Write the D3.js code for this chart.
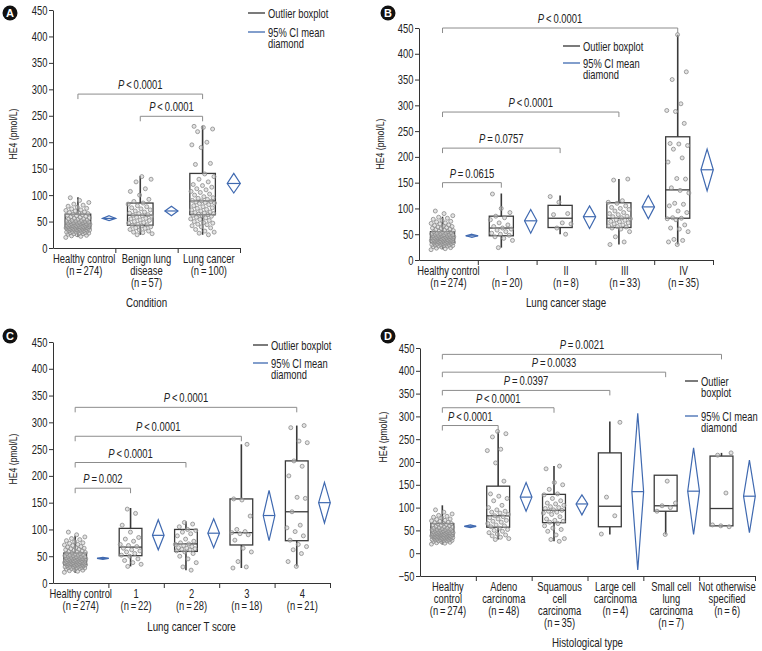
<!DOCTYPE html>
<html><head><meta charset="utf-8">
<script src="https://cdn.jsdelivr.net/npm/d3@7"></script>
<style>
body{margin:0;background:#fff;}
svg text{font-family:"Liberation Sans",Arial,Roboto,sans-serif;fill:#222;}
</style></head><body>
<svg id="chart" width="762" height="651"></svg>
<script>
// ---------------- DATA ----------------
const healthyPoints = [20,22,23,24,25,26,27,27,28,28,29,29,30,30,31,31,32,32,33,33,34,34,34,35,35,35,36,36,36,37,37,37,38,38,38,39,39,39,40,40,40,41,41,41,42,42,42,43,43,43,44,44,44,45,45,45,46,46,46,47,47,48,48,49,49,50,50,51,51,52,52,53,54,55,55,56,57,58,59,60,61,62,63,64,65,66,67,68,70,71,72,74,75,77,79,81,83,86,90,95];

// Panel A — Condition
const catsA = [["Healthy control","(n\u2009=\u2009274)"],["Benign lung","disease","(n\u2009=\u200957)"],["Lung cancer","(n\u2009=\u2009100)"]];
const boxA = [[37,45,64,21,96],[43,62,85,25,136],[63,89,141,25,231]]; // q1, median, q3, whisker low, whisker high
const diamondA = [[56,52,61],[70,61,79],[122,104,141]]; // mean, CI low, CI high
const benignPoints = [25,27,29,30,32,34,35,37,38,40,42,43,44,45,47,48,50,52,53,55,56,58,60,61,62,63,65,66,68,70,72,74,76,78,80,83,85,88,92,100,107,112,125,130,135];
const lungPoints = [25,28,30,32,35,38,40,42,44,45,47,48,50,52,54,55,57,58,60,61,62,63,64,65,66,67,68,70,72,73,75,76,78,80,82,84,85,86,87,88,89,90,92,94,95,97,100,102,105,107,110,112,115,118,120,125,130,135,140,158,160,190,195,200,220,225,228,230];
const pointsA = [healthyPoints, benignPoints, lungPoints];
const bracketsA = [[0,2,291,"<","0.0001"],[1,2,249,"<","0.0001"]];
const yTicksA = [0,50,100,150,200,250,300,350,400,450];

// Panel B — Lung cancer stage
const catsB = [["Healthy control","(n\u2009=\u2009274)"],["I","(n\u2009=\u200920)"],["II","(n\u2009=\u20098)"],["III","(n\u2009=\u200933)"],["IV","(n\u2009=\u200935)"]];
const boxB = [[34,45,55,21,84],[47,62,85,24,129],[63,81,106,50,125],[63,81,111,30,157],[81,136,239,30,437]];
const diamondB = [[47,44,50],[76,52,98],[84,61,105],[103,80,125],[175,134,215]];
const stage1Points = [24,38,42,45,48,50,52,55,58,60,62,65,68,72,78,82,85,92,100,128];
const stage2Points = [50,62,70,72,88,90,112,123];
const stage3Points = [30,35,45,55,60,62,64,65,66,68,70,72,74,75,77,78,80,82,84,85,88,90,92,95,98,100,102,105,110,112,115,155,157];
const stage4Points = [30,35,38,40,55,60,62,68,78,80,81,82,92,95,105,108,110,130,135,140,157,158,190,198,215,222,225,226,265,288,290,303,350,365,437];
const pointsB = [healthyPoints, stage1Points, stage2Points, stage3Points, stage4Points];
const bracketsB = [[0,4,450,"<","0.0001"],[0,3,287,"<","0.0001"],[0,2,217,"=","0.0757"],[0,1,150,"=","0.0615"]];
const yTicksB = [0,50,100,150,200,250,300,350,400,450];

// Panel C — Lung cancer T score
const catsC = [["Healthy control","(n\u2009=\u2009274)"],["1","(n\u2009=\u200922)"],["2","(n\u2009=\u200928)"],["3","(n\u2009=\u200918)"],["4","(n\u2009=\u200921)"]];
const boxC = [[34,45,56,19,88],[51,67,102,31,140],[59,73,100,24,115],[71,94,157,28,259],[79,133,228,31,294]];
const diamondC = [[46,44,48],[89,62,118],[93,66,120],[126,79,173],[150,112,188]];
const t1Points = [31,35,38,42,45,50,52,55,58,60,62,65,68,70,72,78,82,85,95,108,130,138];
const t2Points = [24,30,38,45,50,55,58,60,62,63,64,65,66,68,70,72,73,75,78,82,88,92,95,98,100,105,110,113];
const t3Points = [28,30,40,58,65,80,90,92,94,96,100,125,155,157,259];
const t4Points = [31,40,55,62,68,72,80,88,96,103,108,133,158,160,200,218,228,262,265,290,294];
const pointsC = [healthyPoints, t1Points, t2Points, t3Points, t4Points];
const bracketsC = [[0,4,328,"<","0.0001"],[0,3,274,"<","0.0001"],[0,2,225,"<","0.0001"],[0,1,177,"=","0.002"]];
const yTicksC = [0,50,100,150,200,250,300,350,400,450];

// Panel D — Histological type
const catsD = [["Healthy","control","(n\u2009=\u2009274)"],["Adeno","carcinoma","(n\u2009=\u200948)"],["Squamous","cell","carcinoma","(n\u2009=\u200935)"],["Large cell","carcinoma","(n\u2009=\u20094)"],["Small cell","lung","carcinoma","(n\u2009=\u20097)"],["Not otherwise","specified","(n\u2009=\u20096)"]];
const boxD = [[37,46,65,19,105],[57,82,147,30,267],[67,94,129,26,191],[58,103,220,41,289],[92,104,171,41,171],[60,98,213,58,220]];
const diamondD = [[59,56,62],[123,92,155],[108,84,128],[135,-37,307],[136,41,231],[125,45,204]];
const adenoPoints = [30,32,35,38,40,42,45,48,50,52,55,58,60,62,65,68,70,72,75,78,80,82,85,88,90,92,95,100,105,115,120,125,130,158,198,225,228,255,262,267];
const squamousPoints = [26,30,32,40,48,52,55,60,65,68,70,72,75,80,85,88,90,92,94,95,98,100,102,105,108,110,115,120,128,130,140,150,155,185,191];
const largePoints = [42,82,123,287];
const smallPoints = [41,92,100,104,110,158];
const nosPoints = [58,60,62,132,215,220];
const pointsD = [healthyPoints, adenoPoints, squamousPoints, largePoints, smallPoints, nosPoints];
const bracketsD = [[0,5,436,"=","0.0021"],[0,4,397,"=","0.0033"],[0,3,357,"=","0.0397"],[0,2,319,"<","0.0001"],[0,1,280,"<","0.0001"]];
const yTicksD = [-50,0,50,100,150,200,250,300,350,400,450];

const legendBox = "Outlier boxplot";
const legendDiamond = "95% CI mean diamond";

// ---------------- STYLE ----------------
const C_AXIS = "#333", C_BOX = "#3a3a3a", C_PT = "#8a8a8a", C_BR = "#8c8c8c", C_DIA = "#3f69b0";
const SX = 0.75; // condensed look
const svg = d3.select("#chart");

// text helper: condensed text with optional multiple lines
function T(parent, x, y, lines, size, anchor, lh, rot) {
  const t = parent.append("text")
    .attr("transform", `translate(${x},${y})${rot ? " rotate(" + rot + ")" : ""} scale(${SX},1)`)
    .attr("text-anchor", anchor || "start").style("font-size", size + "px");
  lines.forEach((s, k) => t.append("tspan").attr("x", 0).attr("dy", k ? lh : 0).text(s));
  return t;
}

function drawPanel(p) {
  const g = svg.append("g");
  const n = p.cats.length;
  const y = d3.scaleLinear().domain(p.yDomain).range([p.yB, p.yT]);
  const xb = d3.scaleBand().domain(d3.range(n)).range([p.x0, p.x1]);
  const bw = xb.bandwidth();
  const boxW = bw * 0.41, diaW = bw * 0.21;
  const bc = i => xb(i) + bw * 0.40;
  const dc = i => xb(i) + bw * 0.90;

  // y axis
  const ya = g.append("g").attr("transform", `translate(${p.x0},0)`)
    .call(d3.axisLeft(y).tickValues(p.ticks).tickSize(4).tickSizeOuter(0).tickPadding(3.5)
      .tickFormat(d => d < 0 ? "\u2212" + Math.abs(d) : d));
  ya.selectAll("path,line").attr("stroke", C_AXIS);
  ya.selectAll("text").style("font-size", "12.5px").attr("fill", "#222")
    .style("font-family", "Liberation Sans, Arial, sans-serif")
    .attr("transform", `scale(${SX},1)`);

  // x axis with band-divider ticks
  const xl = d3.scaleLinear().domain([0, n]).range([p.x0, p.x1]);
  const xa = g.append("g").attr("transform", `translate(0,${p.yB})`)
    .call(d3.axisBottom(xl).tickValues(d3.range(1, n + 1)).tickSize(5).tickSizeOuter(0).tickFormat(""));
  xa.selectAll("path,line").attr("stroke", C_AXIS);

  // category labels
  p.cats.forEach((lines, i) => T(g, xb(i) + bw / 2, p.yB + 15, lines, 12.5, "middle", 12));
  T(g, (p.x0 + p.x1) / 2, p.titleY, [p.title], 13, "middle");

  // y title
  T(g, p.ylx, p.yly, ["HE4 (pmol/L)"], 11.5, "middle", 0, -90);

  // boxes
  p.box.forEach((b, i) => {
    const cx = bc(i);
    const [q1, md, q3, lo, hi] = b;
    g.append("line").attr("x1", cx).attr("x2", cx).attr("y1", y(q3)).attr("y2", y(hi)).attr("stroke", C_BOX).attr("stroke-width", 1.6);
    g.append("line").attr("x1", cx).attr("x2", cx).attr("y1", y(q1)).attr("y2", y(lo)).attr("stroke", C_BOX).attr("stroke-width", 1.6);
    g.append("rect").attr("x", cx - boxW / 2).attr("width", boxW).attr("y", y(q3)).attr("height", y(q1) - y(q3))
      .attr("fill", "none").attr("stroke", C_BOX).attr("stroke-width", 1.3);
    g.append("line").attr("x1", cx - boxW / 2).attr("x2", cx + boxW / 2).attr("y1", y(md)).attr("y2", y(md)).attr("stroke", C_BOX).attr("stroke-width", 1.3);
  });

  // points (deterministic jitter)
  p.points.forEach((pts, i) => {
    const cx = bc(i);
    g.append("g").selectAll("circle").data(pts).join("circle")
      .attr("cx", (d, k) => cx + (((k * 0.6180339887 + i * 0.37) % 1) - 0.5) * boxW * 0.95)
      .attr("cy", d => y(d)).attr("r", 2)
      .attr("fill", "#c8c8c8").attr("fill-opacity", 0.5).attr("stroke", C_PT).attr("stroke-width", 0.8);
  });

  // diamonds
  p.dia.forEach((d, i) => {
    const cx = dc(i);
    const [m, lo, hi] = d;
    g.append("path").attr("d", `M${cx},${y(hi)}L${cx + diaW / 2},${y(m)}L${cx},${y(lo)}L${cx - diaW / 2},${y(m)}Z`)
      .attr("fill", "none").attr("stroke", C_DIA).attr("stroke-width", 1.2);
    g.append("line").attr("x1", cx - diaW / 2).attr("x2", cx + diaW / 2).attr("y1", y(m)).attr("y2", y(m))
      .attr("stroke", C_DIA).attr("stroke-width", 1.2);
  });

  // brackets
  p.brackets.forEach(([a, b, v, op, val]) => {
    const xa1 = bc(a), xb1 = bc(b), yy = y(v);
    g.append("path").attr("d", `M${xa1},${yy + 5}V${yy}H${xb1}V${yy + 5}`)
      .attr("fill", "none").attr("stroke", C_BR).attr("stroke-width", 1);
    const t = g.append("text").attr("text-anchor", "middle").style("font-size", "13px")
      .attr("transform", `translate(${(xa1 + xb1) / 2},${yy - 5}) scale(${SX * 0.97},1)`);
    t.append("tspan").style("font-style", "italic").text("P");
    t.append("tspan").text("\u2009" + op + "\u2009" + val);
  });

  // legend
  const L = p.legend;
  g.append("line").attr("x1", L.x).attr("x2", L.x + L.w).attr("y1", L.y1).attr("y2", L.y1).attr("stroke", "#333").attr("stroke-width", 1.3);
  g.append("line").attr("x1", L.x).attr("x2", L.x + L.w).attr("y1", L.y2).attr("y2", L.y2).attr("stroke", C_DIA).attr("stroke-width", 1.3);
  T(g, L.x + L.w + 3, L.y1 + 4.5, L.boxLines, 12.5, "start", 12);
  T(g, L.x + L.w + 3, L.y2 + 4.5, L.diaLines, 12.5, "start", 12);

  // panel letter
  g.append("circle").attr("cx", p.lx).attr("cy", p.ly).attr("r", 7.5).attr("fill", "#111");
  g.append("text").attr("x", p.lx).attr("y", p.ly + 4).attr("text-anchor", "middle")
    .style("font-weight", "bold").style("font-size", "11px").style("fill", "#fff").text(p.letter);
}

const boxWords = legendBox.split(" ");
const diaWords = legendDiamond.split(" ");
const diaLines = [diaWords.slice(0, 3).join(" "), diaWords[3]];

drawPanel({letter: "A", lx: 10, ly: 13, x0: 53, x1: 240, yB: 248, yT: 10, yDomain: [0, 450], ticks: yTicksA,
  cats: catsA, box: boxA, dia: diamondA, points: pointsA, brackets: bracketsA, title: "Condition", titleY: 307,
  ylx: 17, yly: 134,
  legend: {x: 248, w: 17, y1: 13, y2: 32, boxLines: [legendBox], diaLines: diaLines}});

drawPanel({letter: "B", lx: 388, ly: 13, x0: 419, x1: 713, yB: 260, yT: 28, yDomain: [0, 450], ticks: yTicksB,
  cats: catsB, box: boxB, dia: diamondB, points: pointsB, brackets: bracketsB, title: "Lung cancer stage", titleY: 307,
  ylx: 384, yly: 144,
  legend: {x: 563, w: 17, y1: 46, y2: 63, boxLines: [legendBox], diaLines: diaLines}});

drawPanel({letter: "C", lx: 10, ly: 336, x0: 53, x1: 330, yB: 583, yT: 342, yDomain: [0, 450], ticks: yTicksC,
  cats: catsC, box: boxC, dia: diamondC, points: pointsC, brackets: bracketsC, title: "Lung cancer T score", titleY: 631,
  ylx: 17, yly: 459,
  legend: {x: 253, w: 15, y1: 345, y2: 363, boxLines: [legendBox], diaLines: diaLines}});

drawPanel({letter: "D", lx: 388, ly: 336, x0: 420, x1: 755, yB: 576, yT: 348, yDomain: [-50, 450], ticks: yTicksD,
  cats: catsD, box: boxD, dia: diamondD, points: pointsD, brackets: bracketsD, title: "Histological type", titleY: 647,
  ylx: 387, yly: 437,
  legend: {x: 685, w: 13, y1: 381, y2: 416, boxLines: [boxWords[0], boxWords[1]], diaLines: diaLines}});
</script>
</body></html>
